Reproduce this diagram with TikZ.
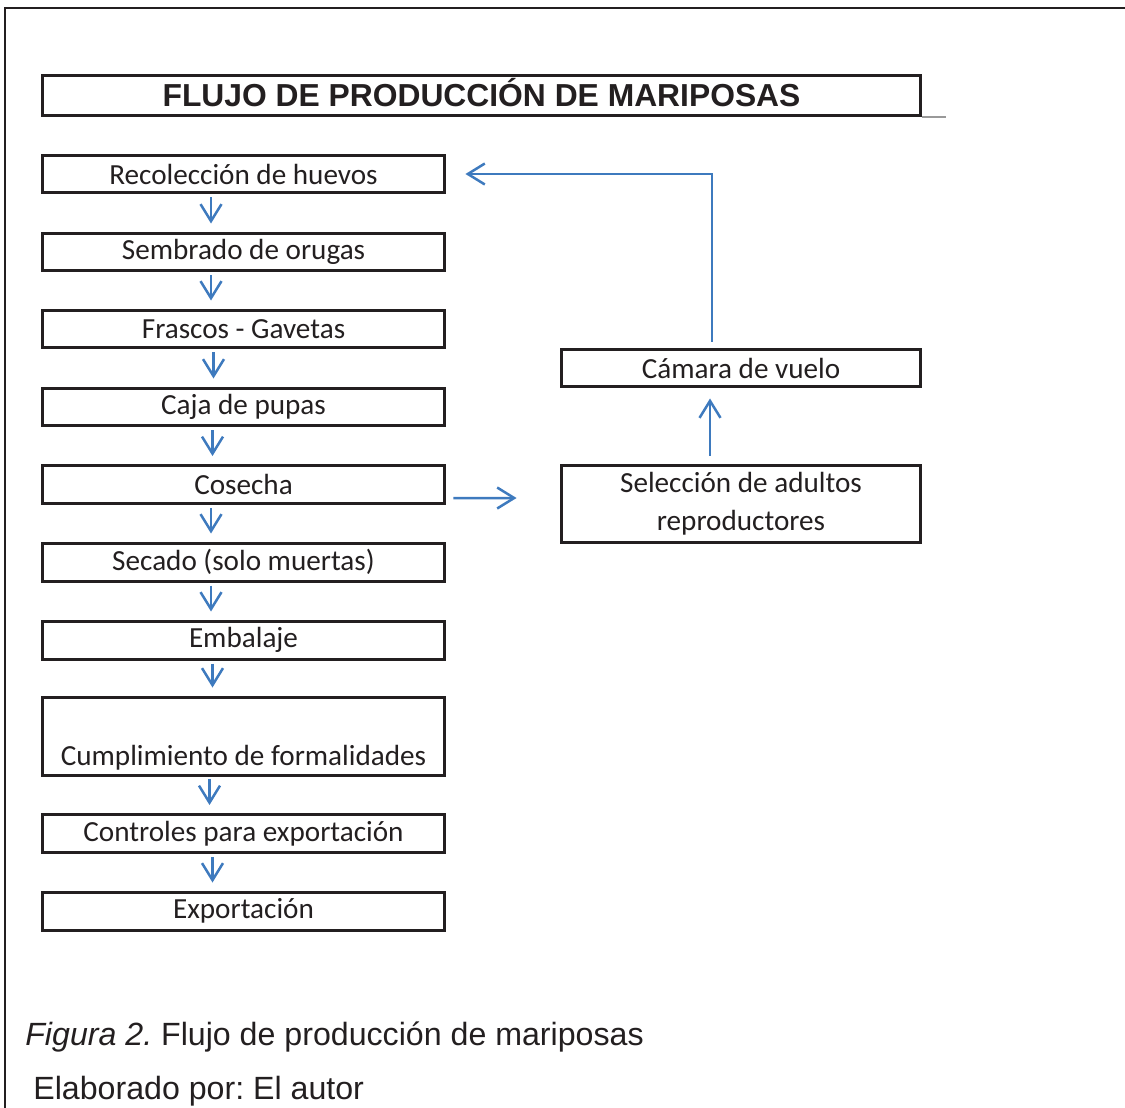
\documentclass[tikz,border=0pt]{standalone}
\usepackage{fontspec}
\setmainfont{Carlito}
\newfontfamily\arial{Liberation Sans}
\usetikzlibrary{arrows.meta,calc}
\definecolor{azul}{RGB}{62,122,190}
\definecolor{tinta}{RGB}{35,31,32}
\frenchspacing
\tikzset{
  caja/.style={draw=tinta, line width=0.06cm, minimum height=0.76cm, inner sep=0pt, text=tinta, align=center, font=\fontsize{16.6}{21.6}\selectfont},
  cajaizq/.style={caja, minimum width=8.06cm},
  cajader/.style={caja, minimum width=7.2cm},
  flecha/.style={draw=azul, line width=0.05cm, -{Straight Barb[length=0.34cm,width=0.42cm]}},
  pie/.style={anchor=west, inner sep=0pt, text=tinta, font=\arial\fontsize{18.3}{22}\selectfont},
}
\begin{document}
\begin{tikzpicture}[x=0.02cm,y=-0.02cm]
\useasboundingbox (0,0) rectangle (1125,1108);
% marco
\draw[tinta, line width=0.05cm] (5,1108) -- (5,8) -- (1125,8);

% titulo
\node[caja, minimum width=17.58cm, minimum height=0.82cm, text height=13pt, text depth=0pt, font=\arial\bfseries\fontsize{18.1}{22}\selectfont] (titulo) at (481.5,95.5) {FLUJO DE PRODUCCIÓN DE MARIPOSAS};
\draw[gray!80, line width=0.04cm] (titulo.south east) -- ++(24,0); % raya gris

% cajas izquierda
\node[cajaizq] (recol) at (243.5,174) {Recolección de huevos};
\node[cajaizq] (sembr) at (243.5,252) {Sembrado de orugas};
\node[cajaizq] (frasc) at (243.5,329) {Frascos - Gavetas};
\node[cajaizq] (pupas) at (243.5,407) {Caja de pupas};
\node[cajaizq] (cosecha) at (243.5,484.5) {Cosecha};
\node[cajaizq] (secado) at (243.5,562) {Secado (solo muertas)};
\node[cajaizq] (embal) at (243.5,640) {Embalaje};
\node[cajaizq, minimum height=1.56cm] (cumpl) at (243.5,736) {\strut\\Cumplimiento de formalidades};
\node[cajaizq] (control) at (243.5,833.5) {Controles para exportación};
\node[cajaizq] (export) at (243.5,911) {Exportación};

% cajas derecha
\node[cajader] (camara) at (741,368) {Cámara de vuelo};
\node[cajader, minimum height=1.56cm] (selec) at (741,504) {\strut Selección de adultos\\reproductores\strut};

% flechas hacia abajo
\draw[flecha, shorten <=0.06cm, shorten >=0.16cm] ([xshift=-0.65cm]recol.south) -- ([xshift=-0.65cm]sembr.north);
\draw[flecha, shorten <=0.06cm, shorten >=0.16cm] ([xshift=-0.65cm]sembr.south) -- ([xshift=-0.65cm]frasc.north);
\draw[flecha, shorten <=0.06cm, shorten >=0.16cm] ([xshift=-0.6cm]frasc.south) -- ([xshift=-0.6cm]pupas.north);
\draw[flecha, shorten <=0.06cm, shorten >=0.16cm] ([xshift=-0.62cm]pupas.south) -- ([xshift=-0.62cm]cosecha.north);
\draw[flecha, shorten <=0.06cm, shorten >=0.16cm] ([xshift=-0.65cm]cosecha.south) -- ([xshift=-0.65cm]secado.north);
\draw[flecha, shorten <=0.06cm, shorten >=0.16cm] ([xshift=-0.65cm]secado.south) -- ([xshift=-0.65cm]embal.north);
\draw[flecha, shorten <=0.06cm, shorten >=0.16cm] ([xshift=-0.62cm]embal.south) -- ([xshift=-0.62cm]cumpl.north);
\draw[flecha, shorten <=0.06cm, shorten >=0.16cm] ([xshift=-0.68cm]cumpl.south) -- ([xshift=-0.68cm]control.north);
\draw[flecha, shorten <=0.06cm, shorten >=0.16cm] ([xshift=-0.62cm]control.south) -- ([xshift=-0.62cm]export.north);

% rama de reproductores
\draw[flecha, shorten <=0.14cm, shorten >=0.86cm] ($(cosecha.east)+(0,13.5)$) -- ($(selec.west)+(0,-6)$);
\draw[flecha, shorten <=0.16cm, shorten >=0.2cm] ([xshift=-0.62cm]selec.north) -- ([xshift=-0.62cm]camara.south);
\draw[flecha, shorten <=0.12cm, shorten >=0.38cm] ([xshift=-0.58cm]camara.north) |- (recol.east);

% pie de figura
\node[pie] (figura) at (25,1037) {\textit{Figura 2.} Flujo de producción de mariposas};
\node[pie] (autor) at (33,1091) {Elaborado por: El autor};
\end{tikzpicture}
\end{document}
